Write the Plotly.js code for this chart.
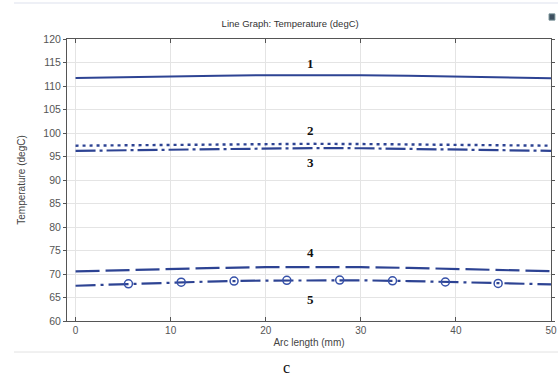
<!DOCTYPE html>
<html>
<head>
<meta charset="utf-8">
<script src="https://cdn.plot.ly/plotly-3.0.1.min.js"></script>
<style>html,body{margin:0;padding:0;background:#fff;}#chart{width:558px;height:378px;}</style>
</head>
<body>
<div id="chart"></div>
<script>
const arcLength = [0, 5, 10, 15, 20, 25, 30, 35, 40, 45, 50];
const temp1 = [111.7, 111.9, 112.05, 112.2, 112.3, 112.35, 112.3, 112.2, 112.05, 111.85, 111.65];
const temp2 = [97.3, 97.4, 97.5, 97.6, 97.65, 97.7, 97.65, 97.6, 97.5, 97.4, 97.3];
const temp3 = [96.2, 96.35, 96.5, 96.65, 96.75, 96.8, 96.75, 96.65, 96.5, 96.35, 96.2];
const temp4 = [70.55, 70.85, 71.1, 71.3, 71.45, 71.5, 71.45, 71.3, 71.1, 70.85, 70.6];
const temp5 = [67.5, 67.85, 68.2, 68.45, 68.6, 68.7, 68.65, 68.5, 68.25, 67.95, 67.8];
const markerX5 = [5.56, 11.11, 16.67, 22.22, 27.78, 33.33, 38.89, 44.44];
const markerY5 = [67.9, 68.25, 68.5, 68.65, 68.7, 68.55, 68.3, 68.0];
const curveLabels = ['1', '2', '3', '4', '5'];
const labelX = [24.7, 24.7, 24.7, 24.7, 24.7];
const labelY = [114.8, 100.6, 93.8, 74.6, 64.6];

const lineCol = '#2d4393';
const traces = [
  {x: arcLength, y: temp1, mode: 'lines', line: {color: lineCol, width: 2}},
  {x: arcLength, y: temp2, mode: 'lines', line: {color: lineCol, width: 2.4, dash: '3px,4px'}},
  {x: arcLength, y: temp3, mode: 'lines', line: {color: lineCol, width: 2.2, dash: '20px,4px,3px,4px'}},
  {x: arcLength, y: temp4, mode: 'lines', line: {color: lineCol, width: 2.2, dash: '24px,6px'}},
  {x: arcLength, y: temp5, mode: 'lines', line: {color: lineCol, width: 2.2, dash: '20px,5px,3px,5px'}},
  {x: markerX5, y: markerY5, mode: 'markers', marker: {symbol: 'circle-open', size: 8, color: '#3550a8', line: {width: 1.5, color: '#3550a8'}}}
];

const annotations = curveLabels.map((t, i) => ({
  x: labelX[i], y: labelY[i], xref: 'x', yref: 'y', text: t, showarrow: false,
  font: {family: 'Liberation Serif', size: 13, color: '#111', weight: 'bold'}
}));
annotations.push({x: 0.4525, y: -0.166, xref: 'paper', yref: 'paper', xanchor: 'center', yanchor: 'middle', text: 'c', showarrow: false,
  font: {family: 'Liberation Serif', size: 16, color: '#111'}});

const layout = {
  width: 558, height: 378,
  margin: {l: 67, r: 7, t: 39, b: 57},
  paper_bgcolor: '#fff', plot_bgcolor: '#fff',
  showlegend: false,
  font: {family: 'Liberation Sans', color: '#444', size: 10},
  title: {text: 'Line Graph: Temperature (degC)', x: 0.52, xanchor: 'center', y: 0.937, yanchor: 'middle',
    font: {family: 'Liberation Sans', size: 9.5, color: '#333'}},
  xaxis: {
    range: [-0.9, 50], dtick: 10, tick0: 0,
    showgrid: true, gridcolor: '#e4e4e4', gridwidth: 1,
    showline: true, linecolor: '#555', linewidth: 1, mirror: 'ticks',
    ticks: 'inside', ticklen: 4, tickcolor: '#555',
    zeroline: false,
    tickfont: {size: 10, color: '#555'},
    title: {text: 'Arc length (mm)', standoff: 3, font: {size: 10, color: '#444'}}
  },
  yaxis: {
    range: [60, 120], dtick: 5, tick0: 60,
    showgrid: true, gridcolor: '#e4e4e4', gridwidth: 1,
    showline: true, linecolor: '#555', linewidth: 1, mirror: 'ticks',
    ticks: 'outside', ticklen: 3, tickcolor: '#555',
    zeroline: false,
    tickfont: {size: 10.5, color: '#555'},
    title: {text: 'Temperature (degC)', standoff: 15, font: {size: 10, color: '#444'}}
  },
  annotations: annotations,
  shapes: [
    {type: 'line', xref: 'paper', yref: 'paper', x0: -0.1095, x1: 1.0145, y0: -0.11, y1: -0.11, line: {color: '#e2e2e2', width: 1}},
    {type: 'line', xref: 'paper', yref: 'paper', x0: -0.1095, x1: 1.0145, y0: 1.128, y1: 1.128, line: {color: '#eef0f6', width: 2}},
    {type: 'rect', xref: 'paper', yref: 'paper', x0: 0.996, x1: 1.008, y0: 1.067, y1: 1.089, fillcolor: '#3e5060', line: {color: '#6f8a90', width: 1}}
  ]
};

Plotly.newPlot('chart', traces, layout, {displayModeBar: false, staticPlot: true});
</script>
</body>
</html>
